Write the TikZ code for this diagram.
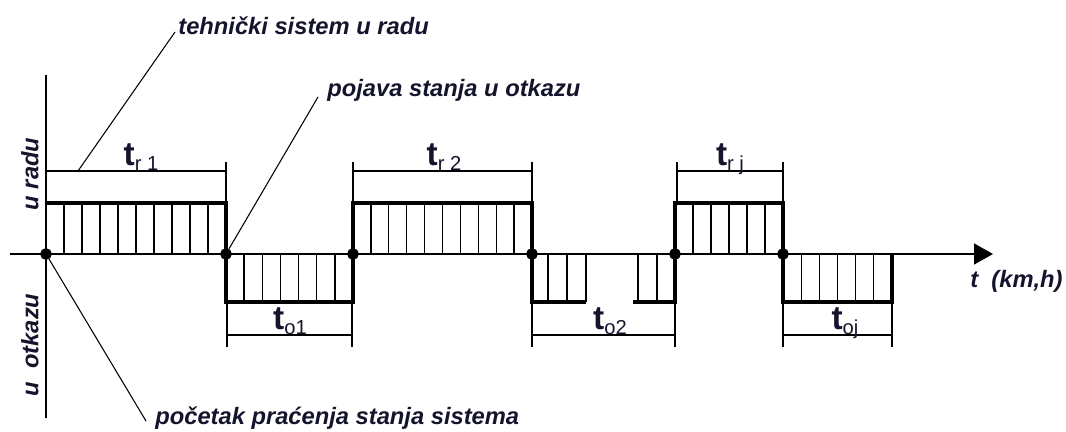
\documentclass[tikz,border=0pt]{standalone}
\usepackage{fontspec}
\setmainfont{Liberation Sans}
\usetikzlibrary{arrows.meta,calc}
\definecolor{txt}{RGB}{20,20,45}
\tikzset{
    wave/.style = {line width=1.8pt, line join=miter},
    hatch/.style = {line width=0.75pt},
    dim/.style = {line width=0.75pt},
    leader/.style = {line width=0.6pt},
    point/.style = {draw, circle, fill, inner sep=0pt, minimum size=0.22cm},
    lbl/.style = {text=txt, font=\fontsize{13.5}{14}\selectfont\bfseries\itshape, inner sep=0pt},
    dur/.style = {text=txt, inner sep=0pt}
}
\newcommand{\tdur}[1]{{\fontsize{19}{19}\selectfont\bfseries t}\raisebox{-2.5pt}{\fontsize{11.5}{11.5}\selectfont #1}}

\begin{document}
\begin{tikzpicture}[x=0.02cm, y=-0.02cm]
    \useasboundingbox (0,0) rectangle (1066,432);
    % hatching
    \foreach \a/\b/\n in {46/226/10, 353/532/10, 675/783/6}
        \foreach \i in {1,...,\n}
            \draw[hatch] ({\a+\i*(\b-\a)/\n},254) -- ({\a+\i*(\b-\a)/\n},203);
    \foreach \a/\b/\n in {226/353/7, 783/892/6}
        \foreach \i in {1,...,\n}
            \draw[hatch] ({\a+\i*(\b-\a)/\n},254) -- ({\a+\i*(\b-\a)/\n},302);
    \foreach \x in {548,567,586,638,657}
        \draw[hatch] (\x,254) -- (\x,302);
    % state line
    \draw[wave] (46,203) -- (226,203) -- (226,302) -- (353,302) -- (353,203)
        -- (532,203) -- (532,302) -- (586,302);
    \draw[wave] (633,302) -- (675,302) -- (675,203) -- (783,203) -- (783,302)
        -- (892,302) -- (892,254);
    % axes
    \draw[line width=0.8pt] (46,75) -- (46,418);
    \draw[line width=0.8pt, -{Triangle[length=0.38cm, width=0.42cm]}] (10,254) -- (993,254);
    % change points
    \node[point] (s0) at (46,254) {};
    \node[point] (s1) at (226,254) {};
    \node[point] (s2) at (353,254) {};
    \node[point] (s3) at (532,254) {};
    \node[point] (s4) at (675,254) {};
    \node[point] (s5) at (783,254) {};
    % durations in work
    \draw[dim] (46,171) -- (226,171);
    \draw[dim] (226,162) -- (226,203);
    \draw[dim] (353,171) -- (532,171);
    \draw[dim] (353,162) -- (353,203) (532,162) -- (532,203);
    \draw[dim] (677,171) -- (783,171);
    \draw[dim] (677,162) -- (677,203) (783,162) -- (783,203);
    \node[dur, anchor=base] (tr1) at (141,166) {\tdur{r 1}};
    \node[dur, anchor=base] (tr2) at (444,166) {\tdur{r 2}};
    \node[dur, anchor=base] (trj) at (730,166) {\tdur{r j}};
    % durations in failure
    \draw[dim] (227,335) -- (352,335);
    \draw[dim] (227,302) -- (227,347) (352,302) -- (352,347);
    \draw[dim] (532,335) -- (675,335);
    \draw[dim] (532,302) -- (532,347) (675,302) -- (675,347);
    \draw[dim] (783,335) -- (892,335);
    \draw[dim] (783,302) -- (783,347) (892,302) -- (892,347);
    \node[dur, anchor=base] (to1) at (290,330) {\tdur{o1}};
    \node[dur, anchor=base] (to2) at (610,330) {\tdur{o2}};
    \node[dur, anchor=base] (toj) at (845,330) {\tdur{oj}};
    % labels
    \node[lbl, anchor=base west] (inwork) at (178,35) {tehnički sistem u radu};
    \node[lbl, anchor=base west] (fail) at (327,97) {pojava stanja u otkazu};
    \node[lbl, anchor=base west] (start) at (155,425) {početak praćenja stanja sistema};
    \node[lbl, anchor=base west, font=\fontsize{13.5}{14}\selectfont\bfseries\itshape] (time) at (970,288) {t\ \ (km,h)};
    \node[lbl, rotate=90] (up) at (30,174) {u radu};
    \node[lbl, rotate=90] (down) at (30,345) {u\ \ otkazu};
    % leaders
    \coordinate (c1) at (78,171);
    \draw[leader] (c1) -- ($(inwork.base west)+(-3,-3)$);
    \draw[leader] (s1) -- ($(fail.base west)+(-9,0)$);
    \draw[leader] (s0) -- ($(start.base west)+(-9,-4)$);
\end{tikzpicture}
\end{document}
